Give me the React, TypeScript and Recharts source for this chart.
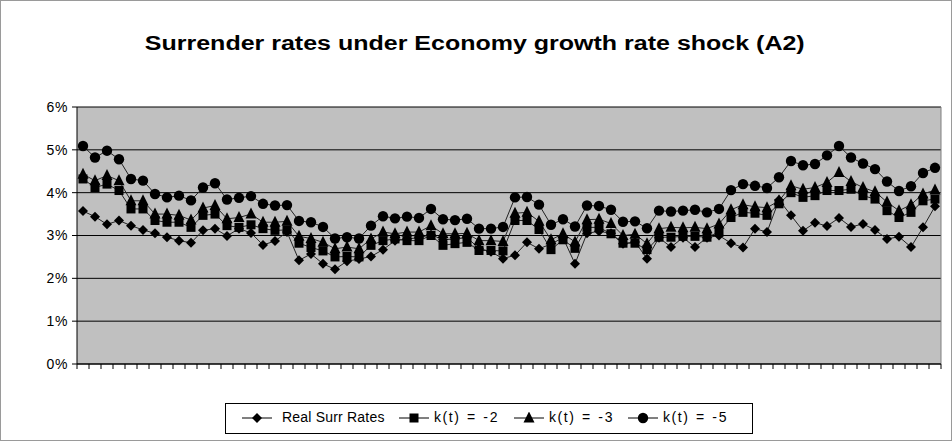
import { LineChart, Line, XAxis, YAxis, CartesianGrid, ReferenceLine } from "recharts";

// values, in percent
const realSurrRates = [
  3.57, 3.44, 3.26, 3.35, 3.23, 3.13, 3.05, 2.96, 2.88, 2.83, 3.12, 3.16, 2.99, 3.16, 3.06, 2.78, 2.87, 3.08,
  2.42, 2.57, 2.34, 2.21, 2.4, 2.45, 2.51, 2.67, 2.88, 2.92, 2.95, 3.02, 2.9, 2.92, 2.95, 2.7, 2.62, 2.46,
  2.54, 2.84, 2.69, 2.8, 2.95, 2.34, 3.05, 3.1, 3.05, 2.81, 2.85, 2.46, 2.95, 2.73, 2.95, 2.73, 2.95, 3.0,
  2.82, 2.72, 3.16, 3.08, 3.83, 3.47, 3.11, 3.3, 3.22, 3.41, 3.2, 3.27, 3.13, 2.92, 2.97, 2.73, 3.19, 3.68,
];
const kMinus2 = [
  4.32, 4.12, 4.2, 4.05, 3.62, 3.62, 3.35, 3.31, 3.31, 3.19, 3.47, 3.5, 3.23, 3.19, 3.25, 3.16, 3.12, 3.13,
  2.82, 2.72, 2.64, 2.5, 2.51, 2.5, 2.77, 2.88, 2.92, 2.88, 2.88, 3.0, 2.77, 2.81, 2.84, 2.65, 2.65, 2.64,
  3.35, 3.35, 3.14, 2.67, 2.9, 2.7, 3.19, 3.19, 3.04, 2.82, 2.82, 2.67, 2.96, 2.96, 2.98, 2.98, 2.96, 3.08,
  3.42, 3.54, 3.52, 3.47, 3.74, 4.0, 3.89, 3.93, 4.05, 4.05, 4.08, 3.93, 3.85, 3.58, 3.42, 3.54, 3.81, 3.85,
];
const kMinus3 = [
  4.43, 4.28, 4.4, 4.28, 3.81, 3.81, 3.5, 3.5, 3.47, 3.36, 3.64, 3.7, 3.39, 3.42, 3.5, 3.31, 3.31, 3.33,
  2.98, 2.93, 2.84, 2.69, 2.73, 2.69, 2.92, 3.08, 3.04, 3.08, 3.08, 3.23, 3.04, 3.04, 3.05, 2.88, 2.88, 2.86,
  3.52, 3.54, 3.33, 2.9, 3.04, 2.85, 3.37, 3.38, 3.28, 3.0, 3.03, 2.81, 3.16, 3.19, 3.18, 3.19, 3.16, 3.27,
  3.6, 3.72, 3.67, 3.65, 3.81, 4.16, 4.08, 4.12, 4.24, 4.47, 4.26, 4.12, 4.02, 3.78, 3.58, 3.72, 3.97, 4.06,
];
const kMinus5 = [
  5.09, 4.82, 4.98, 4.78, 4.32, 4.28, 3.97, 3.89, 3.93, 3.82, 4.12, 4.22, 3.84, 3.88, 3.92, 3.74, 3.7, 3.71,
  3.34, 3.31, 3.2, 2.93, 2.96, 2.93, 3.23, 3.45, 3.4, 3.44, 3.41, 3.62, 3.38, 3.36, 3.39, 3.16, 3.16, 3.2,
  3.89, 3.9, 3.72, 3.25, 3.38, 3.21, 3.7, 3.69, 3.6, 3.32, 3.33, 3.17, 3.58, 3.56, 3.58, 3.6, 3.54, 3.62,
  4.06, 4.2, 4.16, 4.11, 4.36, 4.74, 4.64, 4.67, 4.87, 5.09, 4.82, 4.68, 4.55, 4.26, 4.04, 4.15, 4.46, 4.58,
];
const yTicks = [0, 1, 2, 3, 4, 5, 6];
const seriesNames = ["Real Surr Rates", "k(t) = -2", "k(t) = -3", "k(t) = -5"];
const title = "Surrender rates under Economy growth rate shock (A2)";

const data = realSurrRates.map((v, i) => ({
  i,
  real: v,
  k2: kMinus2[i],
  k3: kMinus3[i],
  k5: kMinus5[i],
}));
// tick marks sit between categories, like Excel
const xTicks = Array.from({ length: realSurrRates.length + 1 }, (_, k) => k - 0.5);

const FONT = "'Liberation Sans', Arial, sans-serif";

const diamondPath = (x: number, y: number, r: number) => `M${x},${y - r}L${x + r},${y}L${x},${y + r}L${x - r},${y}Z`;
const trianglePath = (x: number, y: number, r: number) => `M${x},${y - r - 1}L${x + r},${y + r - 1}L${x - r},${y + r - 1}Z`;

const shapes: Record<string, (x: number, y: number, k?: any) => any> = {
  diamond: (x, y, k) => <path key={k} d={diamondPath(x, y, 5)} fill="#000" />,
  square: (x, y, k) => <rect key={k} x={x - 4.5} y={y - 4.5} width={9} height={9} fill="#000" />,
  triangle: (x, y, k) => <path key={k} d={trianglePath(x, y, 5.5)} fill="#000" />,
  circle: (x, y, k) => <circle key={k} cx={x} cy={y} r={5.2} fill="#000" />,
};

const makeDot = (shape: string) => (props: any) => {
  const { cx, cy, key } = props;
  if (cx == null || cy == null) return <g key={key} />;
  return shapes[shape](cx, cy, key);
};

// legend placement (marker centre, text start) in page pixels
const legendItems = [
  { name: seriesNames[0], shape: "diamond", mark: 256, text: 281, wide: false },
  { name: seriesNames[1], shape: "square", mark: 413, text: 433, wide: true },
  { name: seriesNames[2], shape: "triangle", mark: 528, text: 548, wide: true },
  { name: seriesNames[3], shape: "circle", mark: 642, text: 662, wide: true },
];
const LEG_LEFT = 224;

function Legend() {
  return (
    <div
      style={{
        position: "absolute",
        left: LEG_LEFT,
        top: 402,
        width: 528,
        height: 31,
        boxSizing: "border-box",
        border: "1px solid #000",
        background: "#fff",
        fontFamily: FONT,
        fontSize: 14,
        color: "#000",
      }}
    >
      {legendItems.map((it) => (
        <div key={it.name}>
          <svg
            width={30}
            height={12}
            style={{ position: "absolute", left: it.mark - 15 - LEG_LEFT - 1, top: 8 }}
          >
            <line x1={0} y1={6} x2={30} y2={6} stroke="#000" strokeWidth={1} />
            {shapes[it.shape](15, 6)}
          </svg>
          <span
            style={{
              position: "absolute",
              left: it.text - LEG_LEFT - 1,
              top: 5,
              whiteSpace: "nowrap",
              letterSpacing: it.wide ? 1.6 : 0.2,
              wordSpacing: it.wide ? 1 : 0,
            }}
          >
            {it.name}
          </span>
        </div>
      ))}
    </div>
  );
}

export default function App() {
  return (
    <div
      style={{
        position: "absolute",
        left: 0,
        top: 0,
        width: 952,
        height: 441,
        background: "#fff",
        boxSizing: "border-box",
        border: "1px solid #9a9a9a",
      }}
    >
      <div
        style={{
          position: "absolute",
          left: 0,
          top: 31,
          width: 950,
          textAlign: "center",
          fontFamily: FONT,
          fontWeight: "bold",
          fontSize: 20,
          transform: "scaleX(1.25)",
          transformOrigin: "480px 0",
          color: "#000",
        }}
      >
        {title}
      </div>
      <div style={{ position: "absolute", left: -1, top: -1 }}>
        <LineChart width={952} height={441} data={data} margin={{ top: 107, right: 11, bottom: 67, left: 0 }}>
          <CartesianGrid vertical={false} stroke="#000" fill="#c0c0c0" fillOpacity={1} />
          <XAxis
            dataKey="i"
            type="number"
            domain={[-0.5, realSurrRates.length - 0.5]}
            ticks={xTicks}
            interval={0}
            height={10}
            tickSize={5}
            tickFormatter={() => ""}
            axisLine={{ stroke: "#000" }}
            tickLine={{ stroke: "#000" }}
          />
          <YAxis
            width={77}
            domain={[0, 6]}
            ticks={yTicks}
            interval={0}
            tickSize={5}
            tickMargin={4}
            tickFormatter={(v: number) => `${v}%`}
            axisLine={{ stroke: "#000" }}
            tickLine={{ stroke: "#000" }}
            tick={{ fontSize: 14, fill: "#000", fontFamily: FONT, letterSpacing: 0.6 }}
          />
          <ReferenceLine x={realSurrRates.length - 0.5} stroke="#808080" />
          <Line dataKey="real" name={seriesNames[0]} stroke="#222" strokeWidth={1} dot={makeDot("diamond")} isAnimationActive={false} />
          <Line dataKey="k2" name={seriesNames[1]} stroke="#222" strokeWidth={1} dot={makeDot("square")} isAnimationActive={false} />
          <Line dataKey="k3" name={seriesNames[2]} stroke="#222" strokeWidth={1} dot={makeDot("triangle")} isAnimationActive={false} />
          <Line dataKey="k5" name={seriesNames[3]} stroke="#222" strokeWidth={1} dot={makeDot("circle")} isAnimationActive={false} />
        </LineChart>
      </div>
      <Legend />
    </div>
  );
}
